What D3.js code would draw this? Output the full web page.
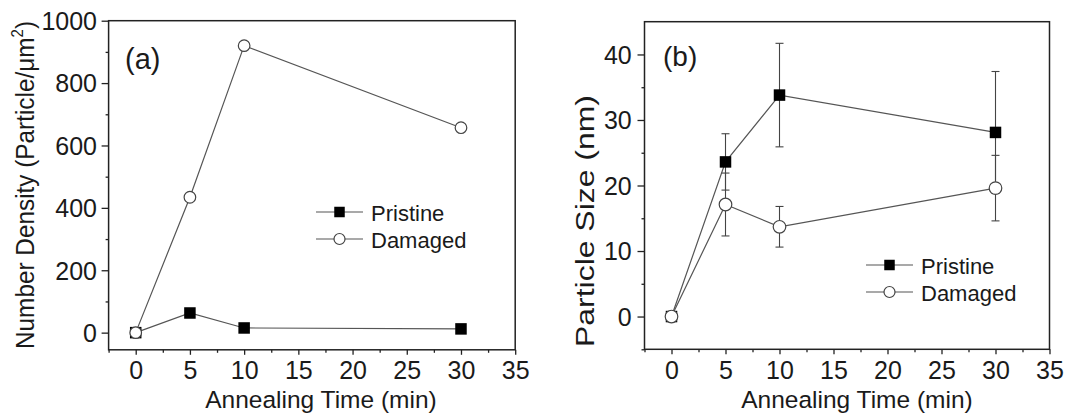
<!DOCTYPE html>
<html>
<head>
<meta charset="utf-8">
<script src="https://cdn.jsdelivr.net/npm/d3@7"></script>
<style>
  html, body { margin: 0; padding: 0; background: #fff; }
  svg { display: block; }
  text { font-family: "Liberation Sans", Arial, sans-serif; fill: #1a1a1a; }
</style>
</head>
<body>
<svg id="chart" width="1065" height="414"></svg>
<script>
// ---------- data ----------
const times = [0, 5, 10, 30];
const densityPristine = [0, 63, 15, 12];
const densityDamaged = [0, 434, 920, 657];
const sizePristine = [0, 23.6, 33.8, 28.1];
const sizePristineErr = [0, 4.3, 7.9, 9.3];
const sizeDamaged = [0, 17.1, 13.7, 19.6];
const sizeDamagedErr = [0, 4.8, 3.1, 5.0];

const xTicks = [0, 5, 10, 15, 20, 25, 30, 35];
const xMinorTicks = [-2.5, 2.5, 7.5, 12.5, 17.5, 22.5, 27.5, 32.5];
const densityTicks = [0, 200, 400, 600, 800, 1000];
const densityMinorTicks = [100, 300, 500, 700, 900];
const sizeTicks = [0, 10, 20, 30, 40];
const sizeMinorTicks = [-5, 5, 15, 25, 35];

const seriesNames = ["Pristine", "Damaged"];
const xTitle = "Annealing Time (min)";

// ---------- drawing ----------
const svg = d3.select("#chart");
const lineColor = "#555";
const frameColor = "#222";
const tickFont = 25;

function drawPanel(cfg) {
  const g = svg.append("g");
  const x = d3.scaleLinear().domain([-2.5, 35]).range(cfg.xRange);
  const y = d3.scaleLinear().domain(cfg.yDomain).range(cfg.yRange);
  const bottom = cfg.yRange[0];
  const left = cfg.xRange[0];
  const xPad = 379 - 0.71 * tickFont - bottom - 5;

  const xAxis = g.append("g").attr("transform", `translate(0,${bottom})`)
    .call(d3.axisBottom(x).tickValues(xTicks).tickSize(5).tickPadding(xPad).tickFormat(d3.format("d")));
  const xAxisMinor = g.append("g").attr("transform", `translate(0,${bottom})`)
    .call(d3.axisBottom(x).tickValues(xMinorTicks).tickSize(3).tickFormat(""));
  const yAxis = g.append("g").attr("transform", `translate(${left},0)`)
    .call(d3.axisLeft(y).tickValues(cfg.yTicks).tickSize(7).tickPadding(cfg.yPad).tickFormat(d3.format("d")));
  const yAxisMinor = g.append("g").attr("transform", `translate(${left},0)`)
    .call(d3.axisLeft(y).tickValues(cfg.yMinor).tickSize(3).tickFormat(""));
  [xAxis, xAxisMinor, yAxis, yAxisMinor].forEach(a => {
    a.select(".domain").remove();
    a.selectAll(".tick line").attr("stroke", frameColor).attr("stroke-width", 1.3);
    a.selectAll(".tick text").attr("font-size", tickFont).attr("font-family", "Liberation Sans, Arial, sans-serif").attr("fill", "#1a1a1a");
  });
  yAxis.selectAll(".tick text").attr("dy", "0.35em");

  g.append("rect")
    .attr("x", cfg.xRange[0]).attr("y", cfg.yRange[1])
    .attr("width", cfg.xRange[1] - cfg.xRange[0])
    .attr("height", cfg.yRange[0] - cfg.yRange[1])
    .attr("fill", "none").attr("stroke", frameColor).attr("stroke-width", 1.5);

  const line = d3.line().x(d => x(d[0])).y(d => y(d[1]));

  cfg.series.forEach((s, si) => {
    const pts = times.map((t, i) => [t, s.values[i], s.err ? s.err[i] : 0]);
    g.append("path").datum(pts).attr("d", line)
      .attr("fill", "none").attr("stroke", lineColor).attr("stroke-width", 1.2);
    if (s.err) {
      const eb = g.append("g");
      pts.filter(p => p[2] > 0).forEach(p => {
        const cx = x(p[0]);
        const y1 = y(p[1] + p[2]), y2 = y(p[1] - p[2]);
        eb.append("line").attr("x1", cx).attr("x2", cx).attr("y1", y1).attr("y2", y2)
          .attr("stroke", "#444").attr("stroke-width", 1.1);
        [y1, y2].forEach(yy => eb.append("line")
          .attr("x1", cx - 4).attr("x2", cx + 4).attr("y1", yy).attr("y2", yy)
          .attr("stroke", "#444").attr("stroke-width", 1.1));
      });
    }
    pts.forEach(p => drawMarker(g, s.type, x(p[0]), y(p[1]), cfg.sq, cfg.r));
  });

  cfg.series.forEach((s, si) => {
    const ly = cfg.legend.y[si];
    g.append("line").attr("x1", cfg.legend.x1).attr("x2", cfg.legend.x2)
      .attr("y1", ly).attr("y2", ly).attr("stroke", lineColor).attr("stroke-width", 1.2);
    drawMarker(g, s.type, (cfg.legend.x1 + cfg.legend.x2) / 2, ly, 10.5, 5.5);
    g.append("text").attr("x", cfg.legend.tx).attr("y", ly + 8.5)
      .attr("font-size", 22).text(seriesNames[si]);
  });

  g.append("text").attr("x", cfg.xTitleX).attr("y", 408).attr("text-anchor", "middle")
    .attr("font-size", 24.5).text(xTitle);

  return { g, x, y };
}

function drawMarker(g, type, cx, cy, sq, r) {
  if (type === "square") {
    g.append("rect").attr("x", cx - sq / 2).attr("y", cy - sq / 2)
      .attr("width", sq).attr("height", sq).attr("fill", "#000");
  } else {
    g.append("circle").attr("cx", cx).attr("cy", cy).attr("r", r)
      .attr("fill", "#fff").attr("stroke", "#444").attr("stroke-width", 1.2);
  }
}

// panel (a)
const pa = drawPanel({
  xRange: [108.6, 515.2],
  yDomain: [-55, 1000], yRange: [349.8, 20.7],
  yTicks: densityTicks, yMinor: densityMinorTicks, yPad: 4.6,
  series: [
    { type: "square", values: densityPristine },
    { type: "circle", values: densityDamaged }
  ],
  sq: 11.5, r: 5.8,
  legend: { x1: 316, x2: 363, tx: 371, y: [212, 239] },
  xTitleX: 321
});
pa.g.append("text").attr("x", 125).attr("y", 69)
  .attr("font-family", "'Open Sans', sans-serif").attr("font-size", 29).text("(a)");
const ya = pa.g.append("text").attr("transform", "translate(34,185) rotate(-90)")
  .attr("text-anchor", "middle").attr("font-size", 26)
  .attr("textLength", 328).attr("lengthAdjust", "spacingAndGlyphs");
ya.append("tspan").text("Number Density (Particle/\u03bcm");
ya.append("tspan").attr("font-size", 16).attr("dy", -11).text("2");
ya.append("tspan").attr("dy", 11).text(")");

// panel (b)
const pb = drawPanel({
  xRange: [644.5, 1049.5],
  yDomain: [-5, 45], yRange: [349.3, 21.7],
  yTicks: sizeTicks, yMinor: sizeMinorTicks, yPad: 5.8,
  series: [
    { type: "square", values: sizePristine, err: sizePristineErr },
    { type: "circle", values: sizeDamaged, err: sizeDamagedErr }
  ],
  sq: 11.5, r: 6.3,
  legend: { x1: 866, x2: 913, tx: 921, y: [265, 292] },
  xTitleX: 857
});
pb.g.append("text").attr("x", 663).attr("y", 66).attr("font-size", 28).text("(b)");
pb.g.append("text").attr("transform", "translate(594,221) rotate(-90)")
  .attr("text-anchor", "middle").attr("font-size", 25)
  .attr("textLength", 252).attr("lengthAdjust", "spacingAndGlyphs")
  .text("Particle Size (nm)");
</script>
</body>
</html>
